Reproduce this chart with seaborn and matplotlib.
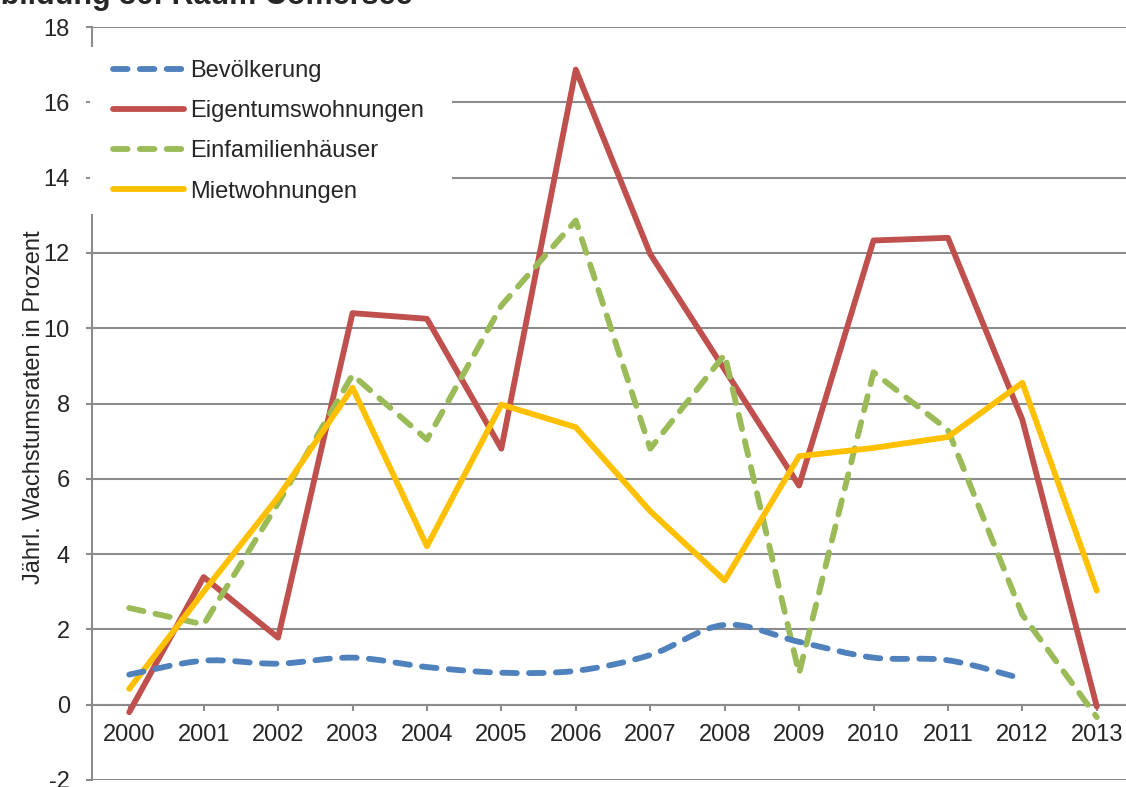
import numpy as np
import pandas as pd
import matplotlib
matplotlib.use("Agg")
import matplotlib.pyplot as plt
import seaborn as sns
from matplotlib.path import Path
from matplotlib.patches import PathPatch, Rectangle
from matplotlib.lines import Line2D

# Jährliche Wachstumsraten in Prozent
years = [str(y) for y in range(2000, 2014)]
bevoelkerung = [0.80, 1.17, 1.09, 1.25, 1.00, 0.85, 0.90, 1.32, 2.12, 1.67, 1.25, 1.18, 0.69, np.nan]
eigentumswohnungen = [-0.20, 3.39, 1.78, 10.40, 10.25, 6.80, 16.87, 11.97, 8.90, 5.82, 12.33, 12.40, 7.57, -0.05]
einfamilienhaeuser = [2.57, 2.13, 5.35, 8.76, 7.04, 10.60, 12.86, 6.80, 9.30, 0.83, 8.83, 7.30, 2.39, -0.33]
mietwohnungen = [0.42, 3.00, 5.51, 8.42, 4.21, 7.97, 7.37, 5.14, 3.30, 6.60, 6.82, 7.11, 8.55, 3.03]

series_names = ["Bevölkerung", "Eigentumswohnungen", "Einfamilienhäuser", "Mietwohnungen"]
colors = {"Bevölkerung": "#4F81BD", "Eigentumswohnungen": "#C0504D",
          "Einfamilienhäuser": "#9BBB59", "Mietwohnungen": "#FFC000"}

sns.set_theme(style="white")
plt.rcParams["font.family"] = ["Liberation Sans", "DejaVu Sans"]

fig = plt.figure(figsize=(11.26, 7.87), dpi=100)
W, H = 1126, 787
ax = fig.add_axes([92 / W, 7 / H, 1042 / W, 753 / H])

LW = 4.2
DASH = (2.5, 2.1)
grid_col = "#8C8C8C"

# straight-line series through seaborn
x_idx = np.arange(len(years))
long = pd.DataFrame({
    "x": np.tile(x_idx, 3),
    "value": eigentumswohnungen + einfamilienhaeuser + mietwohnungen,
    "series": np.repeat(series_names[1:], len(years)),
})
sns.lineplot(data=long, x="x", y="value", hue="series", style="series",
             palette={k: colors[k] for k in series_names[1:]},
             dashes={"Eigentumswohnungen": "", "Einfamilienhäuser": DASH, "Mietwohnungen": ""},
             linewidth=LW, legend=False, ax=ax, zorder=3)
for ln in ax.get_lines():
    ln.set_solid_joinstyle("round")
    ln.set_solid_capstyle("round")
    ln.set_dash_capstyle("round")
    ln.set_dash_joinstyle("round")

# smoothed population curve (cubic Bezier segments through the data points)
bx = x_idx[~np.isnan(bevoelkerung)].astype(float)
by = np.array(bevoelkerung)[~np.isnan(bevoelkerung)]
pts = np.column_stack([bx, by])
verts = [pts[0]]
codes = [Path.MOVETO]
n = len(pts)
for i in range(n - 1):
    p0 = pts[i - 1] if i > 0 else pts[i]
    p1 = pts[i]
    p2 = pts[i + 1]
    p3 = pts[i + 2] if i + 2 < n else pts[i + 1]
    c1 = p1 + (p2 - p0) / 6.0
    c2 = p2 - (p3 - p1) / 6.0
    verts += [c1, c2, p2]
    codes += [Path.CURVE4] * 3
curve = PathPatch(Path(verts, codes), facecolor="none", edgecolor=colors["Bevölkerung"],
                  linewidth=LW, linestyle=(0, DASH), capstyle="round", joinstyle="round",
                  zorder=3)
ax.add_patch(curve)

# axes layout
ax.set_xlim(-0.5, 13.5)
ax.set_ylim(-2, 18)
ax.set_yticks(np.arange(-2, 19, 2))
ax.set_yticklabels([str(v) for v in range(-2, 19, 2)])
ax.set_xticks(x_idx)
ax.set_xticklabels(years)
ax.yaxis.grid(True, color=grid_col, linewidth=1.5, zorder=0)
ax.xaxis.grid(False)
ax.set_axisbelow(True)
for s in ["top", "right"]:
    ax.spines[s].set_visible(False)
ax.spines["left"].set_color(grid_col)
ax.spines["left"].set_linewidth(1.5)
ax.spines["bottom"].set_position(("data", 0))
ax.spines["bottom"].set_color(grid_col)
ax.spines["bottom"].set_linewidth(1.5)
ax.tick_params(axis="y", which="major", direction="out", length=4, width=1.5,
               color=grid_col, labelsize=17, pad=12, left=True)
ax.tick_params(axis="x", which="major", direction="out", length=4, width=1.5,
               color=grid_col, labelsize=17, pad=10, bottom=True)
ax.set_xlabel("")
ax.set_ylabel("Jährl. Wachstumsraten in Prozent", fontsize=17)
ax.yaxis.set_label_coords(-0.045, 0.495)

# white panel behind the legend
ax.add_patch(Rectangle((90 / W, (H - 214) / H), 362 / W, 167 / H,
                       transform=fig.transFigure, facecolor="white", edgecolor="none",
                       zorder=4, clip_on=False))

# legend
handles = [
    Line2D([], [], color=colors["Bevölkerung"], lw=LW, linestyle=(0, DASH), dash_capstyle="round"),
    Line2D([], [], color=colors["Eigentumswohnungen"], lw=LW, solid_capstyle="round"),
    Line2D([], [], color=colors["Einfamilienhäuser"], lw=LW, linestyle=(0, DASH), dash_capstyle="round"),
    Line2D([], [], color=colors["Mietwohnungen"], lw=LW, solid_capstyle="round"),
]
leg = ax.legend(handles, series_names, loc="upper left",
                bbox_to_anchor=(113 / W, (H - 60) / H), bbox_transform=fig.transFigure,
                frameon=False, fontsize=17, handlelength=3.0, handletextpad=0.25,
                labelspacing=0.77, borderpad=0, borderaxespad=0)
leg.set_zorder(5)

# figure title, partly outside the canvas
fig.text(-40 / W, (H - 4) / H, "Abbildung 36: Raum Comersee", fontsize=22,
         fontweight="bold", ha="left", va="baseline")

fig.savefig("out.png", dpi=100)
